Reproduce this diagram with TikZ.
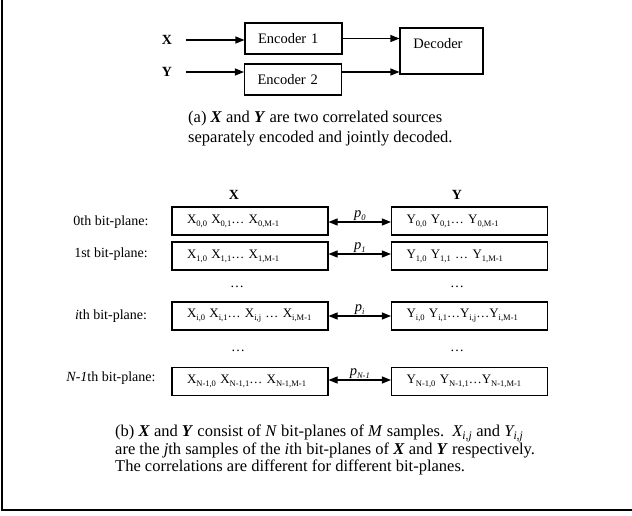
\documentclass[tikz,border=0pt]{standalone}
\usepackage{fontspec}
\setmainfont{Liberation Serif}
\usetikzlibrary{arrows.meta}
\tikzset{
  lw/.style={line width=1.1pt},
  box/.style={draw, lw, inner sep=0pt, font=\fontsize{14.5}{17}\selectfont},
  enc/.style={box, minimum height=31pt, text width=97pt, align=left,
    execute at begin node={\hspace*{13pt}}},
  arr/.style={lw, -{Triangle[length=9pt,width=7pt]}},
  darr/.style={lw, {Triangle[length=9pt,width=7pt]}-{Triangle[length=9pt,width=7pt]}},
  txt/.style={inner sep=0pt, font=\fontsize{14}{16}\selectfont},
  hdr/.style={inner sep=0pt, font=\fontsize{14}{16}\selectfont\bfseries},
  plane/.style={draw, lw, minimum height=28pt, inner xsep=0pt, inner ysep=0pt,
    text width=156pt, align=left, font=\fontsize{13}{15}\selectfont,
    execute at begin node={\hspace*{15pt}}},
  plab/.style={inner sep=1pt, font=\fontsize{14.5}{16}\selectfont\itshape},
  captxt/.style={inner sep=0pt, align=left, anchor=west}
}
\newcommand{\sbs}[1]{\raisebox{-0.22em}{\fontsize{8.5}{9}\selectfont #1}}
\newcommand{\csb}[1]{\textsubscript{#1}}
\begin{document}
\begin{tikzpicture}[x=1pt,y=-1pt]
\useasboundingbox (0,0) rectangle (632,515);
\draw[line width=1.2pt] (2,0) -- (2,510) -- (632,510);

% part (a)
\node[hdr] (xl) at (167,40) {X};
\node[hdr] (yl) at (167,72) {Y};
\node[enc] (e1) at (293.5,38.5) {Encoder 1};
\node[enc] (e2) at (293,79.5) {Encoder 2};
\node[box, minimum width=83pt, minimum height=46pt] (dec) at (441.5,51) {};
\node[box, draw=none] (dect) at (438,44) {Decoder};
\draw[arr] ([xshift=14pt]xl.east) -- (xl.east -| e1.west);
\draw[arr] ([xshift=14pt]yl.east) -- (yl.east -| e2.west);
\draw[arr] (e1.east) -- (e1.east -| dec.west);
\draw[arr] (yl.east -| e2.east) -- (yl.east -| dec.west);
\node[captxt, font=\fontsize{16.5}{20}\selectfont] (capa) at (188,129)
  {(a) \textbf{\textit{X}} and \textbf{\textit{Y}} are two correlated sources\\
   separately encoded and jointly decoded.};

% part (b)
\node[hdr] (hx) at (234,195) {X};
\node[hdr] (hy) at (457,195) {Y};

\node[txt] (l0) at (111,222) {0th bit-plane:};
\node[txt] (l1) at (111,254) {1st bit-plane:};
\node[txt] (li) at (111,316) {\textit{i}th bit-plane:};
\node[txt] (ln) at (111,378) {\textit{N-1}th bit-plane:};

\node[plane] (x0) at (250,221) {X\sbs{0,0} X\sbs{0,1}… X\sbs{0,M-1}};
\node[plane] (x1) at (250,256) {X\sbs{1,0} X\sbs{1,1}… X\sbs{1,M-1}};
\node[plane] (xi) at (250,316) {X\sbs{i,0} X\sbs{i,1}… X\sbs{i,j} … X\sbs{i,M-1}};
\node[plane] (xn) at (250,381.5) {X\sbs{N-1,0} X\sbs{N-1,1}… X\sbs{N-1,M-1}};

\node[plane] (y0) at (469.5,221) {Y\sbs{0,0} Y\sbs{0,1}… Y\sbs{0,M-1}};
\node[plane] (y1) at (469.5,256) {Y\sbs{1,0} Y\sbs{1,1} … Y\sbs{1,M-1}};
\node[plane] (yi) at (469.5,316) {Y\sbs{i,0} Y\sbs{i,1}…Y\sbs{i,j}…Y\sbs{i,M-1}};
\node[plane] (yn) at (469.5,381.5) {Y\sbs{N-1,0} Y\sbs{N-1,1}…Y\sbs{N-1,M-1}};

\node[txt] (dx1) at (237,287) {…};
\node[txt] (dy1) at (457,287) {…};
\node[txt] (dx2) at (238,351) {…};
\node[txt] (dy2) at (457,351) {…};

\draw[darr] (l0 -| x0.east) -- node[plab, above] (p0) {p\sbs{0}} (l0 -| y0.west);
\draw[darr] (l1 -| x1.east) -- node[plab, above] (p1) {p\sbs{1}} (l1 -| y1.west);
\draw[darr] (li -| xi.east) -- node[plab, above] (pi) {p\sbs{i}} (li -| yi.west);
\draw[darr] ([yshift=-2pt]ln.center -| xn.east) -- node[plab, above] (pn) {p\sbs{N-1}} ([yshift=-2pt]ln.center -| yn.west);

\node[captxt, font=\fontsize{16.5}{17.5}\selectfont] (capb) at (115,450)
  {(b) \textbf{\textit{X}} and \textbf{\textit{Y}} consist of \textit{N} bit-planes of \textit{M} samples.\ \ \textit{X\csb{i,j}} and \textit{Y\csb{i,j}}\\
   are the \textit{j}th samples of the \textit{i}th bit-planes of \textbf{\textit{X}} and \textbf{\textit{Y}} respectively.\\
   The correlations are different for different bit-planes.};
\end{tikzpicture}
\end{document}
